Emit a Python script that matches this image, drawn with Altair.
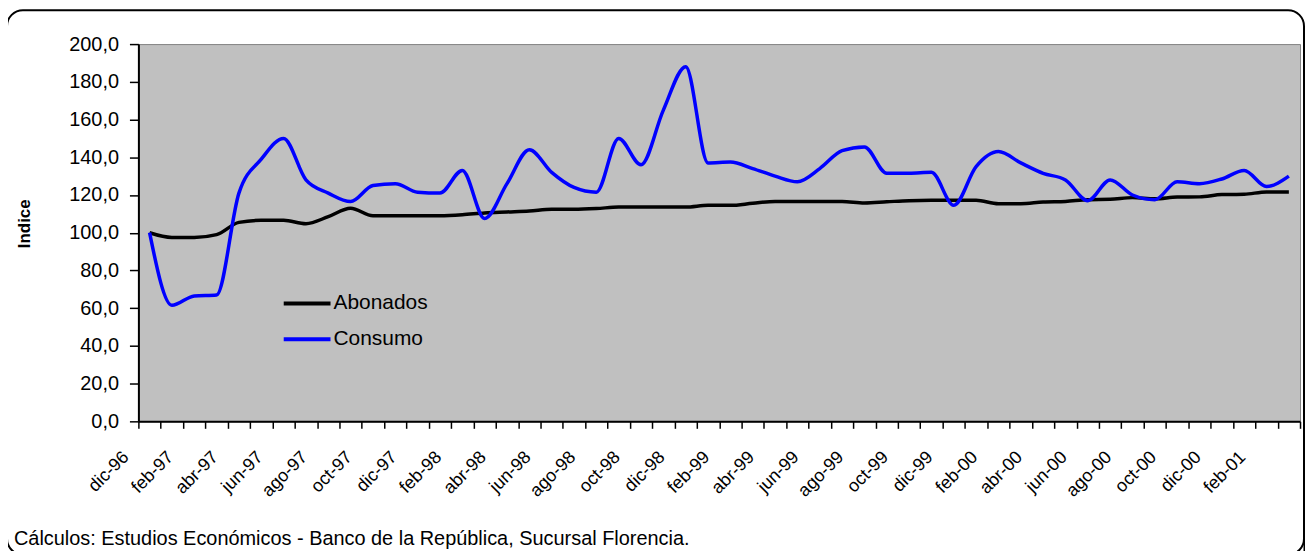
import altair as alt
import pandas as pd

meses = [
    "dic-96",
    "ene-97", "feb-97", "mar-97", "abr-97", "may-97", "jun-97", "jul-97", "ago-97", "sep-97", "oct-97", "nov-97", "dic-97",
    "ene-98", "feb-98", "mar-98", "abr-98", "may-98", "jun-98", "jul-98", "ago-98", "sep-98", "oct-98", "nov-98", "dic-98",
    "ene-99", "feb-99", "mar-99", "abr-99", "may-99", "jun-99", "jul-99", "ago-99", "sep-99", "oct-99", "nov-99", "dic-99",
    "ene-00", "feb-00", "mar-00", "abr-00", "may-00", "jun-00", "jul-00", "ago-00", "sep-00", "oct-00", "nov-00", "dic-00",
    "ene-01", "feb-01", "mar-01",
]

abonados = [
    100, 97.5, 97.5, 99, 105.5, 106.6, 106.6, 104.8, 108.5, 113, 109, 109, 109,
    109, 109.5, 110.5, 111, 111.5, 112.4, 112.4, 112.8, 113.6, 113.6, 113.6, 113.6,
    114.5, 114.5, 115.6, 116.6, 116.6, 116.6, 116.6, 115.8, 116.4, 117, 117.2, 117.2,
    117.2, 115.4, 115.4, 116.3, 116.6, 117.5, 117.7, 118.6, 118, 118.9, 119, 120.2,
    120.4, 121.6, 121.6,
]

consumo = [
    100, 61.5, 66.5, 67, 121, 139, 150, 128, 121, 116.5, 125, 126, 121.5,
    121, 133, 107.5, 126, 144, 132, 124, 121.5, 150, 136, 165, 188,
    137, 137.5, 134, 130, 127, 134, 143.5, 145.5, 131.5, 131.5, 132, 114.5,
    135, 143, 137, 131.5, 128, 117, 128, 120, 117.5, 127, 126, 128.5,
    133, 124.5, 130,
]

series = ["Abonados", "Consumo"]
colores = ["#000000", "#0000FF"]
etiquetas = meses[0::2]
y_ticks = list(range(0, 201, 20))
nota = "Cálculos:  Estudios Económicos - Banco de la República, Sucursal Florencia."

df = pd.DataFrame({
    "mes": meses * 2,
    "serie": ["Abonados"] * len(meses) + ["Consumo"] * len(meses),
    "valor": abonados + consumo,
})

FONT = "Liberation Sans"
label_list = "[" + ",".join("'" + e + "'" for e in etiquetas) + "]"

lines = alt.Chart(df).mark_line(strokeWidth=3.5, interpolate="monotone").encode(
    x=alt.X(
        "mes:O",
        sort=meses,
        scale=alt.Scale(type="band", paddingInner=0, paddingOuter=0),
        axis=alt.Axis(
            title=None,
            tickBand="extent",
            labelAngle=-45,
            labelAlign="right",
            labelBaseline="middle",
            labelOffset=-24,
            labelPadding=26,
            labelFontSize=18,
            labelFont=FONT,
            labelColor="black",
            labelOverlap=False,
            labelExpr="indexof(" + label_list + ", datum.label) >= 0 ? datum.label : ''",
            tickSize=7,
            tickColor="black",
            tickWidth=1.5,
            domainColor="black",
            domainWidth=2,
            grid=False,
        ),
    ),
    y=alt.Y(
        "valor:Q",
        scale=alt.Scale(domain=[0, 200], nice=False, zero=True),
        axis=alt.Axis(
            values=y_ticks,
            labelExpr="replace(format(datum.value, '.1f'), '.', ',')",
            tickSize=9,
            tickColor="black",
            tickWidth=1.5,
            labelPadding=11,
            labelFontSize=20,
            labelFont=FONT,
            labelColor="black",
            domainColor="black",
            domainWidth=2,
            grid=False,
            title="Indice",
            titleFont=FONT,
            titleFontSize=17,
            titleFontWeight="bold",
            titleColor="black",
            titleX=-114,
            titleY=180,
            titleAngle=270,
            titleAlign="center",
            titleBaseline="middle",
        ),
    ),
    color=alt.Color(
        "serie:N",
        scale=alt.Scale(domain=series, range=colores),
        legend=alt.Legend(
            title=None,
            orient="none",
            legendX=144,
            legendY=235,
            symbolType="stroke",
            symbolSize=2209,
            symbolStrokeWidth=4,
            labelFontSize=21,
            labelFont=FONT,
            labelColor="black",
            labelOffset=1,
            rowPadding=-13,
            padding=0,
        ),
    ),
)

frame = alt.Chart(pd.DataFrame({"a": [0]})).mark_rect(
    fillOpacity=0, stroke="black", strokeWidth=2, cornerRadius=16
).encode(
    x=alt.value(-132), x2=alt.value(1171), y=alt.value(-34), y2=alt.value(513)
)

shadow = alt.Chart(pd.DataFrame({"a": [0]})).mark_rule(
    stroke="black", strokeWidth=3
).encode(
    x=alt.value(1172), y=alt.value(-16), y2=alt.value(510)
)

foot = alt.Chart(pd.DataFrame({"a": [0]})).mark_text(
    text=nota, align="left", baseline="alphabetic", fontSize=20, font=FONT, color="black"
).encode(x=alt.value(-125), y=alt.value(503))

chart = alt.layer(frame, shadow, lines, foot).properties(
    width=1167,
    height=379,
    autosize=alt.AutoSizeParams(type="none"),
    padding={"left": 131, "top": 35, "right": 5, "bottom": 129},
).configure(
    background="white"
).configure_view(
    fill="#C0C0C0", stroke="#808080", strokeWidth=1
)

chart.save("out.html", embed_options={"renderer": "svg", "actions": False})
